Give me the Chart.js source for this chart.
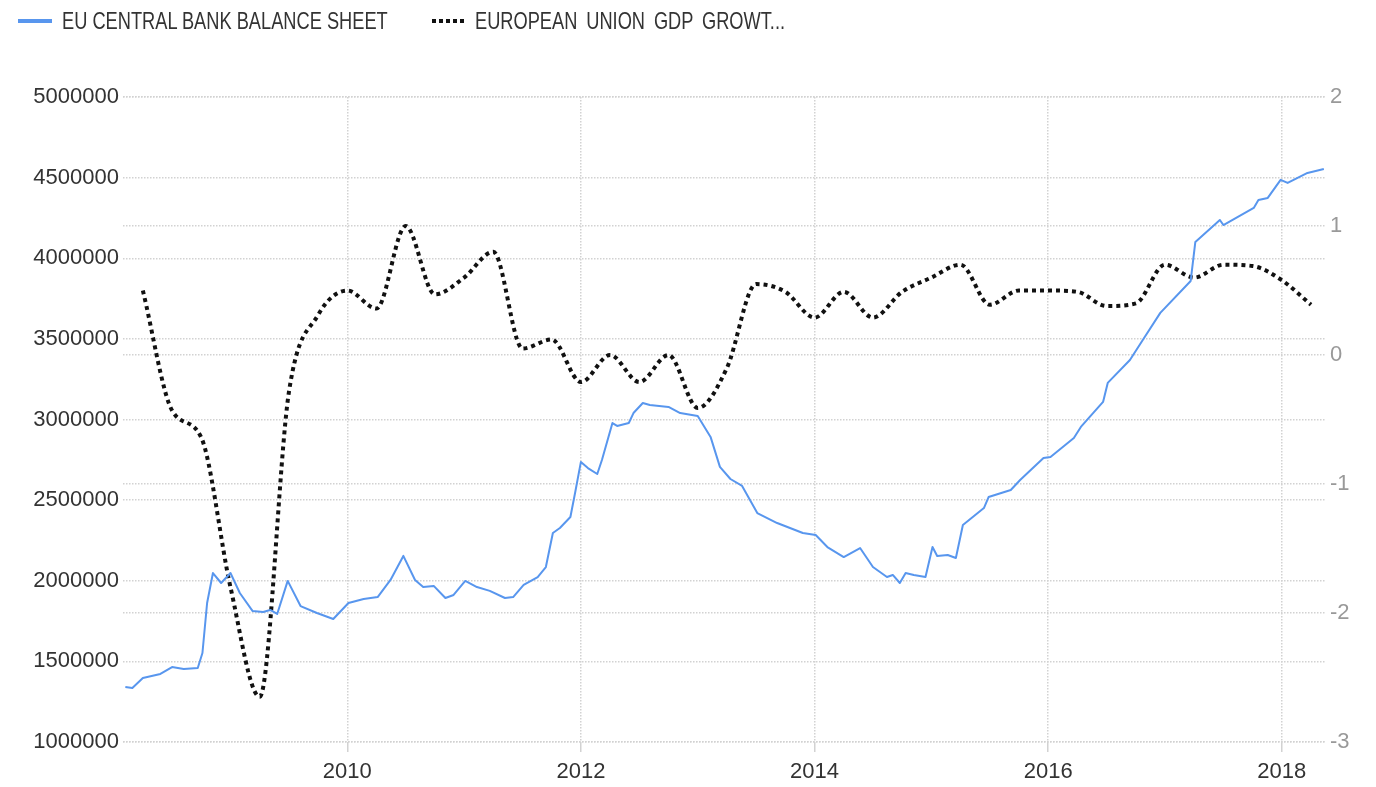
<!DOCTYPE html>
<html lang="en">
<head>
    <meta charset="UTF-8">
    <title>EU Central Bank Balance Sheet vs European Union GDP Growth</title>
    <script src="https://cdn.jsdelivr.net/npm/chart.js"></script>
    <style>
        body {
            margin: 0;
            background: #fff;
        }
        .wrapper {
            position: relative;
            width: 1376px;
            height: 787px;
        }
        .legend-item {
            position: absolute;
            top: 7px;
            font-family: 'Liberation Sans', Arial, sans-serif;
            font-size: 24px;
            line-height: 28px;
            color: #333;
            white-space: nowrap;
            /* the original uses a narrow face */
            transform: scaleX(0.76);
            transform-origin: left center;
        }
        .swatch {
            position: absolute;
            height: 4px;
        }
    </style>
</head>
<body>
    <div class="wrapper">
        <canvas id="ecbChart"></canvas>
        <span class="swatch" style="left:18px; top:19px; width:34px; background:#5896ee;"></span>
        <span class="legend-item" style="left:62px;">EU CENTRAL BANK BALANCE SHEET</span>
        <span class="swatch" style="left:432px; top:19px; width:34px; background:repeating-linear-gradient(90deg, #111 0 4px, transparent 4px 7px);"></span>
        <span class="legend-item" style="left:475px; word-spacing:5px;">EUROPEAN UNION GDP GROWT...</span>
    </div>

    <script>
        // ECB balance sheet (EUR million), decimal years
        const bsDates = [
            2008.10, 2008.16, 2008.25, 2008.40, 2008.50, 2008.60, 2008.72, 2008.76, 2008.80, 2008.85,
            2008.92, 2009.00, 2009.08, 2009.19, 2009.28, 2009.34, 2009.40, 2009.49, 2009.60, 2009.74,
            2009.88, 2010.01, 2010.14, 2010.26, 2010.37, 2010.48, 2010.58, 2010.65, 2010.74, 2010.84,
            2010.91, 2011.01, 2011.11, 2011.22, 2011.35, 2011.42, 2011.51, 2011.63, 2011.70, 2011.76,
            2011.82, 2011.91, 2011.95, 2012.00, 2012.06, 2012.14, 2012.18, 2012.27, 2012.31, 2012.41,
            2012.45, 2012.53, 2012.59, 2012.75, 2012.85, 2013.00, 2013.11, 2013.19, 2013.28, 2013.38,
            2013.51, 2013.68, 2013.90, 2014.01, 2014.11, 2014.25, 2014.39, 2014.50, 2014.62, 2014.67,
            2014.73, 2014.78, 2014.85, 2014.95, 2015.01, 2015.05, 2015.14, 2015.21, 2015.27, 2015.45,
            2015.49, 2015.68, 2015.76, 2015.96, 2016.02, 2016.22, 2016.28, 2016.47, 2016.51, 2016.70,
            2016.81, 2016.96, 2017.22, 2017.26, 2017.47, 2017.50, 2017.76, 2017.80, 2017.88, 2017.99,
            2018.05, 2018.22, 2018.36
        ];
        const bsValues = [
            1341000, 1335000, 1397000, 1422000, 1465000, 1453000, 1459000, 1552000, 1862000, 2048000,
            1986000, 2048000, 1924000, 1812000, 1806000, 1819000, 1794000, 1999000, 1843000, 1800000,
            1763000, 1862000, 1887000, 1899000, 2005000, 2154000, 2005000, 1961000, 1968000, 1893000,
            1912000, 1999000, 1961000, 1937000, 1893000, 1899000, 1974000, 2023000, 2085000, 2296000,
            2327000, 2395000, 2544000, 2737000, 2699000, 2662000, 2749000, 2978000, 2960000, 2978000,
            3040000, 3102000, 3090000, 3078000, 3040000, 3022000, 2892000, 2706000, 2631000, 2588000,
            2420000, 2358000, 2296000, 2284000, 2209000, 2147000, 2203000, 2085000, 2023000, 2036000,
            1986000, 2048000, 2036000, 2023000, 2209000, 2154000, 2160000, 2141000, 2346000, 2451000,
            2519000, 2563000, 2625000, 2761000, 2768000, 2885000, 2954000, 3109000, 3227000, 3369000,
            3493000, 3661000, 3859000, 4101000, 4237000, 4206000, 4312000, 4361000, 4374000, 4486000,
            4467000, 4529000, 4554000
        ];

        // EU GDP growth, quarter on quarter (%)
        const gdpQuarters = [
            '2008Q1', '2008Q2', '2008Q3', '2008Q4', '2009Q1', '2009Q2', '2009Q3', '2009Q4',
            '2010Q1', '2010Q2', '2010Q3', '2010Q4', '2011Q1', '2011Q2', '2011Q3', '2011Q4',
            '2012Q1', '2012Q2', '2012Q3', '2012Q4', '2013Q1', '2013Q2', '2013Q3', '2013Q4',
            '2014Q1', '2014Q2', '2014Q3', '2014Q4', '2015Q1', '2015Q2', '2015Q3', '2015Q4',
            '2016Q1', '2016Q2', '2016Q3', '2016Q4', '2017Q1', '2017Q2', '2017Q3', '2017Q4',
            '2018Q1'
        ];
        const gdpValues = [
            0.50, -0.43, -0.64, -1.80, -2.65, -0.29, 0.31, 0.50,
            0.36, 1.00, 0.47, 0.60, 0.80, 0.05, 0.12, -0.21,
            0.00, -0.21, 0.00, -0.41, -0.10, 0.55, 0.49, 0.29,
            0.49, 0.29, 0.49, 0.60, 0.70, 0.39, 0.50, 0.50,
            0.49, 0.38, 0.40, 0.70, 0.60, 0.70, 0.69, 0.58,
            0.39
        ];

        const xTickYears = [2010, 2012, 2014, 2016, 2018];
        const leftTicks = [1000000, 1500000, 2000000, 2500000, 3000000, 3500000, 4000000, 4500000, 5000000];
        const rightTicks = [-3, -2, -1, 0, 1, 2];

        // quarter is plotted at its end date
        const quarterToYear = q => parseInt(q.slice(0, 4)) + parseInt(q.slice(5)) * 0.25;

        const axisFont = {
            family: "'Liberation Sans', Arial, sans-serif",
            size: 22
        };
        const gridColor = '#d2d2d2';

        const ctx = document.getElementById('ecbChart').getContext('2d');
        const ecbChart = new Chart(ctx, {
            type: 'line',
            data: {
                datasets: [{
                    label: 'EU CENTRAL BANK BALANCE SHEET',
                    data: bsDates.map((d, i) => ({ x: d, y: bsValues[i] })),
                    yAxisID: 'y',
                    borderColor: '#5896ee',
                    borderWidth: 2,
                    pointRadius: 0,
                    tension: 0,
                    borderJoinStyle: 'round'
                }, {
                    label: 'EUROPEAN UNION GDP GROWTH RATE',
                    data: gdpQuarters.map((q, i) => ({ x: quarterToYear(q), y: gdpValues[i] })),
                    yAxisID: 'y1',
                    borderColor: '#111',
                    borderWidth: 4,
                    borderDash: [4, 4],
                    pointRadius: 0,
                    cubicInterpolationMode: 'monotone'
                }]
            },
            options: {
                responsive: true,
                maintainAspectRatio: false,
                animation: false,
                layout: {
                    padding: { top: 97, left: 0, right: 0, bottom: 0 }
                },
                scales: {
                    x: {
                        type: 'linear',
                        min: 2008.08,
                        max: 2018.37,
                        afterBuildTicks: scale => {
                            scale.ticks = xTickYears.map(v => ({ value: v }));
                        },
                        afterFit: scale => { scale.height = 45; },
                        grid: {
                            color: gridColor,
                            lineWidth: 1.5,
                            tickLength: 10,
                            tickColor: gridColor,
                            tickWidth: 1.5
                        },
                        border: { display: false, dash: [1.5, 1.5] },
                        ticks: {
                            color: '#333',
                            font: axisFont,
                            padding: 7,
                            maxRotation: 0,
                            callback: v => String(v)
                        }
                    },
                    y: {
                        position: 'left',
                        min: 1000000,
                        max: 5000000,
                        afterBuildTicks: scale => {
                            scale.ticks = leftTicks.map(v => ({ value: v }));
                        },
                        afterFit: scale => { scale.width = 123; },
                        grid: {
                            color: gridColor,
                            lineWidth: 1.5,
                            drawTicks: false
                        },
                        border: { display: false, dash: [1.5, 1.5] },
                        ticks: {
                            color: '#333',
                            font: axisFont,
                            padding: 4,
                            callback: v => String(v)
                        }
                    },
                    y1: {
                        position: 'right',
                        min: -3,
                        max: 2,
                        afterBuildTicks: scale => {
                            scale.ticks = rightTicks.map(v => ({ value: v }));
                        },
                        afterFit: scale => { scale.width = 51; },
                        grid: {
                            color: gridColor,
                            lineWidth: 1.5,
                            drawTicks: false
                        },
                        border: { display: false, dash: [1.5, 1.5] },
                        ticks: {
                            color: '#999',
                            font: axisFont,
                            padding: 5,
                            callback: v => String(v)
                        }
                    }
                },
                plugins: {
                    legend: { display: false },
                    tooltip: { enabled: false }
                }
            }
        });
    </script>
</body>
</html>
